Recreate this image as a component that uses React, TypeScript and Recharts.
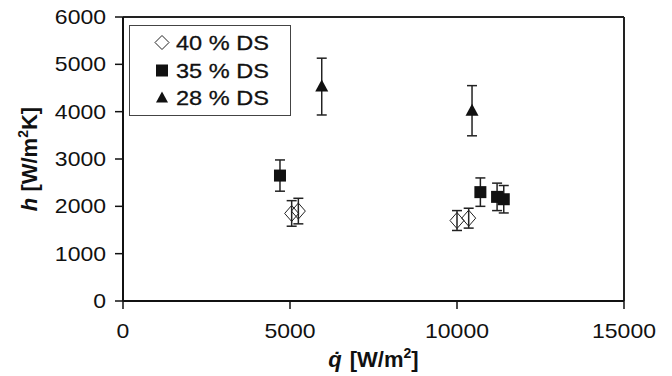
import React from 'react';
import { ScatterChart, Scatter, XAxis, YAxis, ErrorBar, ReferenceLine, Legend } from 'recharts';

const seriesNames = ['40 % DS', '35 % DS', '28 % DS'];

const ds40X = [5050, 5250, 10000, 10350];
const ds40Y = [1850, 1900, 1700, 1750];
const ds40Err = [270, 270, 210, 210];

const ds35X = [4700, 10700, 11200, 11400];
const ds35Y = [2650, 2300, 2200, 2150];
const ds35Err = [330, 300, 290, 290];

const ds28X = [5950, 10450];
const ds28Y = [4530, 4020];
const ds28Err = [600, 530];

const xTicks = [0, 5000, 10000, 15000];
const yTicks = [0, 1000, 2000, 3000, 4000, 5000, 6000];

const build = (xs: number[], ys: number[], es: number[]) =>
  xs.map((x, i) => ({ x, y: ys[i], err: es[i] }));

const data40 = build(ds40X, ds40Y, ds40Err);
const data35 = build(ds35X, ds35Y, ds35Err);
const data28 = build(ds28X, ds28Y, ds28Err);

const FONT = '"Liberation Sans", Arial, Helvetica, sans-serif';
const INK = '#111';

const Diamond = (p: any) => {
  const { cx, cy } = p;
  if (cx == null || cy == null) return null;
  return (
    <path
      d={`M${cx},${cy - 8} L${cx + 7},${cy} L${cx},${cy + 8} L${cx - 7},${cy} Z`}
      fill="none"
      stroke="#222"
      strokeWidth={1}
    />
  );
};

const Square = (p: any) => {
  const { cx, cy } = p;
  if (cx == null || cy == null) return null;
  return <rect x={cx - 6} y={cy - 6} width={12} height={12} fill={INK} />;
};

const Triangle = (p: any) => {
  const { cx, cy } = p;
  if (cx == null || cy == null) return null;
  return <path d={`M${cx},${cy - 7} L${cx + 6.5},${cy + 5} L${cx - 6.5},${cy + 5} Z`} fill={INK} />;
};

const XTick = (p: any) => {
  const { x, y, payload } = p;
  return (
    <text
      transform={`translate(${x},${y + 27}) scale(1.15,1)`}
      textAnchor="middle"
      fontSize={20}
      fontFamily={FONT}
      fill={INK}
    >
      {payload.value}
    </text>
  );
};

const YTick = (p: any) => {
  const { x, y, payload } = p;
  return (
    <text
      transform={`translate(${x - 7},${y + 7}) scale(1.15,1)`}
      textAnchor="end"
      fontSize={20}
      fontFamily={FONT}
      fill={INK}
    >
      {payload.value}
    </text>
  );
};

const YLabel = (p: any) => {
  const vb = p.viewBox || { x: 0, y: 0, width: 0, height: 0 };
  const bx = vb.x + 37;
  const cy = vb.y + vb.height / 2;
  return (
    <text
      x={bx}
      y={cy}
      transform={`rotate(-90, ${bx}, ${cy})`}
      textAnchor="middle"
      fontSize={22}
      fontWeight="bold"
      fontFamily={FONT}
      fill={INK}
    >
      <tspan fontStyle="italic">h</tspan>
      <tspan> [W/m</tspan>
      <tspan dy={-9} fontSize={14}>2</tspan>
      <tspan dy={9}>K]</tspan>
    </text>
  );
};

const XLabel = (p: any) => {
  const vb = p.viewBox || { x: 0, y: 0, width: 0, height: 0 };
  const cx = vb.x + vb.width / 2;
  const by = vb.y + 66;
  return (
    <text
      x={cx}
      y={by}
      textAnchor="middle"
      fontSize={22}
      fontWeight="bold"
      fontFamily={FONT}
      fill={INK}
    >
      <tspan fontStyle="italic">{'q\u0307'}</tspan>
      <tspan dx={8}>[W/m</tspan>
      <tspan dy={-9} fontSize={14}>2</tspan>
      <tspan dy={9}>]</tspan>
    </text>
  );
};

const legendMarkers = [
  (cx: number, cy: number) => (
    <path
      d={`M${cx},${cy - 7} L${cx + 7},${cy} L${cx},${cy + 7} L${cx - 7},${cy} Z`}
      fill="none"
      stroke="#222"
      strokeWidth={1}
    />
  ),
  (cx: number, cy: number) => <rect x={cx - 6} y={cy - 6} width={12} height={12} fill={INK} />,
  (cx: number, cy: number) => (
    <path d={`M${cx},${cy - 6} L${cx + 6},${cy + 5} L${cx - 6},${cy + 5} Z`} fill={INK} />
  ),
];

const renderLegend = () => (
  <div
    style={{
      width: '100%',
      height: '100%',
      boxSizing: 'border-box',
      border: '1.5px solid #444',
      background: '#fff',
      paddingTop: 3,
    }}
  >
    {seriesNames.map((name, i) => (
      <div key={name} style={{ display: 'flex', alignItems: 'center', height: 27.5 }}>
        <svg width={46} height={27} style={{ flex: 'none' }}>
          {legendMarkers[i](32, 13.5)}
        </svg>
        <span
          style={{
            fontFamily: FONT,
            fontSize: 21,
            color: INK,
            display: 'inline-block',
            transform: 'scaleX(1.12)',
            transformOrigin: 'left center',
            whiteSpace: 'nowrap',
            lineHeight: '27px',
            WebkitTextStroke: '0.3px #111',
          }}
        >
          {name}
        </span>
      </div>
    ))}
  </div>
);

export default function App() {
  return (
    <div style={{ position: 'absolute', left: 0, top: 0, width: 672, height: 376, background: '#fff' }}>
      <ScatterChart width={672} height={376} margin={{ top: 17, right: 48, bottom: 0, left: 0 }}>
        <XAxis
          type="number"
          dataKey="x"
          domain={[0, 15000]}
          ticks={xTicks}
          interval={0}
          allowDataOverflow
          height={75}
          tickSize={8}
          axisLine={{ stroke: INK, strokeWidth: 2 }}
          tickLine={{ stroke: INK, strokeWidth: 1.5 }}
          tick={XTick}
          label={{ content: XLabel }}
        />
        <YAxis
          type="number"
          dataKey="y"
          domain={[0, 6000]}
          ticks={yTicks}
          interval={0}
          allowDataOverflow
          width={123}
          tickSize={8}
          axisLine={{ stroke: INK, strokeWidth: 2 }}
          tickLine={{ stroke: INK, strokeWidth: 1.5 }}
          tick={YTick}
          label={{ content: YLabel }}
        />
        <ReferenceLine y={6000} stroke="#222" strokeWidth={2} />
        <ReferenceLine x={15000} stroke="#222" strokeWidth={2} />
        <Legend
          layout="vertical"
          align="center"
          verticalAlign="middle"
          content={renderLegend}
          wrapperStyle={{ position: 'absolute', left: 129, top: 25, width: 162, height: 91 }}
        />
        <Scatter name={seriesNames[0]} data={data40} shape={Diamond} isAnimationActive={false}>
          <ErrorBar dataKey="err" direction="y" width={5} stroke="#222" strokeWidth={1.5} isAnimationActive={false} />
        </Scatter>
        <Scatter name={seriesNames[1]} data={data35} shape={Square} isAnimationActive={false}>
          <ErrorBar dataKey="err" direction="y" width={5} stroke="#222" strokeWidth={1.5} isAnimationActive={false} />
        </Scatter>
        <Scatter name={seriesNames[2]} data={data28} shape={Triangle} isAnimationActive={false}>
          <ErrorBar dataKey="err" direction="y" width={5} stroke="#222" strokeWidth={1.5} isAnimationActive={false} />
        </Scatter>
      </ScatterChart>
    </div>
  );
}
